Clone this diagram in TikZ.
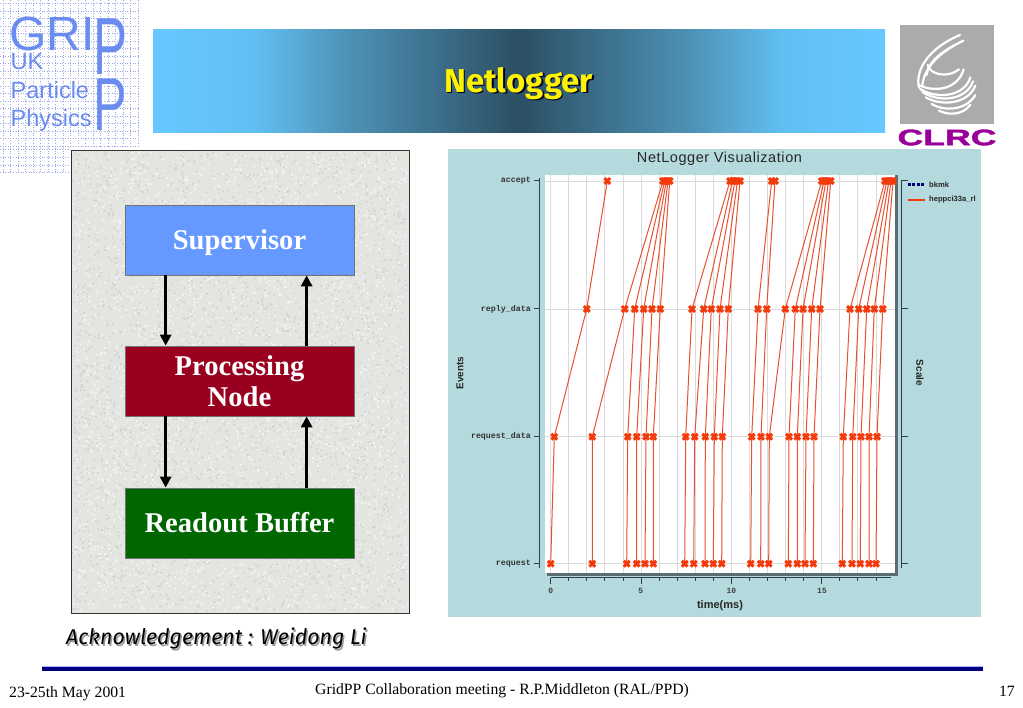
\documentclass[tikz,border=0pt]{standalone}
\usepackage{fontspec}
\setmainfont{Liberation Serif}
\newfontfamily\helv{Liberation Sans}
\newfontfamily\comic{Fira Sans}
\newfontfamily\monob{Liberation Mono}
\newfontfamily\ptitlefont{Liberation Sans}[LetterSpace=4]
\newfontfamily\clrcfont{Liberation Sans}[BoldFeatures={FakeBold=1.5}]
\usetikzlibrary{arrows.meta}
\definecolor{edgeblue}{HTML}{66C8FF}
\definecolor{midblue}{HTML}{4F93B8}
\definecolor{darkblue}{HTML}{2B4F63}
\definecolor{plotbg}{HTML}{B5DADD}
\definecolor{panel}{HTML}{E4E4E1}
\definecolor{gridlogo}{HTML}{9AA8EA}
\definecolor{logoblue}{HTML}{6A8CF0}
\definecolor{sevent}{HTML}{F43A0A}
\definecolor{sline}{HTML}{E8502F}
\definecolor{axisdark}{HTML}{2A3F4A}
\definecolor{clrcpurple}{HTML}{990099}
\pgfdeclarehorizontalshading{titlebar}{100bp}{color(0bp)=(edgeblue); color(25bp)=(edgeblue); color(32bp)=(edgeblue!92!darkblue); color(38bp)=(midblue); color(44bp)=(midblue!50!darkblue); color(50bp)=(darkblue); color(56bp)=(midblue!50!darkblue); color(62bp)=(midblue); color(68bp)=(edgeblue!92!darkblue); color(75bp)=(edgeblue); color(100bp)=(edgeblue)}
\tikzset{
  x=1pt,y=-1pt,
  flowbox/.style={minimum width=229pt,minimum height=70pt,inner sep=0pt,align=center,text=white,draw=black!55,line width=.7pt,font=\fontsize{28.6}{32}\selectfont\bfseries},
  capline/.style={text height=19pt,text depth=0pt},
  flow/.style={line width=3pt,-{Triangle[length=11pt,width=11pt]},black},
  ticklab/.style={font=\monob\bfseries\fontsize{8.3}{9}\selectfont,text=black!80,inner sep=0pt},
  timelab/.style={font=\monob\bfseries\fontsize{8}{9}\selectfont,text=black!75,inner sep=0pt},
  plotlab/.style={font=\helv\bfseries\fontsize{10}{11}\selectfont,text=black!85,inner sep=0pt},
  foot/.style={font=\fontsize{15.7}{17}\selectfont,text=black,inner sep=0pt},
  gridl/.style={draw=black!14,line width=.9pt},
  series/.style={draw=sline,line width=1pt},
  mk/.style={draw=sevent,line width=3pt},
  swirl/.style={draw=white,line width=2.2pt,line cap=round},
  logodots/.style={draw=gridlogo,line width=.8pt,dash pattern=on 1pt off 1.6pt},
  logotext/.style={text=logoblue,inner sep=0pt,anchor=base west,font=\helv\fontsize{23.5}{25}\selectfont}
}
\newcommand{\evmark}[2]{\draw[mk] (#1-2.9,#2-2.9) -- (#1+2.9,#2+2.9) (#1-2.9,#2+2.9) -- (#1+2.9,#2-2.9);}
\begin{document}
\begin{tikzpicture}
\useasboundingbox (0,0) rectangle (1023,708);
\fill[white] (0,0) rectangle (1023,708);
% GridPP logo
\foreach \c in {3,10.5,...,140} \draw[logodots] (\c,0) -- (\c,148);
\foreach \c in {3,10.5,...,70} \draw[logodots] (\c,148) -- (\c,172);
\foreach \r in {3.5,11,...,148} \draw[logodots] (0,\r) -- (140,\r);
\foreach \r in {149.5,157.2,165,172} \draw[logodots] (0,\r) -- (70,\r);
\node[logotext,font=\helv\fontsize{48}{50}\selectfont] (gri) at (9,50.5) {GRI};
\node[logotext,font=\helv\fontsize{81}{82}\selectfont,xscale=.63] (ptop) at (93,75) {P};
\node[logotext,font=\helv\fontsize{75}{76}\selectfont,xscale=.67] (pbot) at (93.5,131) {P};
\node[logotext] (uk) at (10.5,70) {UK};
\node[logotext] (particle) at (10.5,98.5) {Particle};
\node[logotext] (physics) at (10.5,126.5) {Physics};
% Title bar
\shade[shading=titlebar] (153,30) rectangle (885,133);
\node[inner sep=0pt,text=black!85!blue,font=\comic\bfseries\fontsize{33}{36}\selectfont] (titleshadow) at (520.2,85.1) {Netlogger};
\node[inner sep=0pt,text=yellow,font=\comic\bfseries\fontsize{33}{36}\selectfont] (title) at (518.7,83.5) {Netlogger};
% CLRC logo
\fill[black!33] (900,25) rectangle (994,124.5);
\begin{scope}[shift={(895,20)},x=.3333pt,y=-.3333pt]
  \draw[swirl] (195,45) .. controls (100,85) and (60,150) .. (72,203);
  \draw[swirl] (205,62) .. controls (125,100) and (85,150) .. (82,198);
  \draw[swirl] (180,75) .. controls (125,105) and (100,130) .. (95,165);
  \draw[swirl] (98,135) .. controls (105,165) and (160,175) .. (192,148);
  \draw[swirl] (70,195) .. controls (125,220) and (190,205) .. (206,148);
  \draw[swirl] (75,207) .. controls (130,240) and (210,228) .. (226,172);
  \draw[swirl] (82,216) .. controls (135,250) and (215,240) .. (234,184);
  \draw[swirl] (92,232) .. controls (140,260) and (220,252) .. (241,197);
  \draw[swirl] (110,252) .. controls (150,276) and (215,270) .. (241,225);
  \draw[swirl] (132,272) .. controls (160,287) and (205,285) .. (226,254);
\end{scope}
\node[inner sep=0pt,text=clrcpurple,font=\clrcfont\bfseries\fontsize{22}{24}\selectfont,xscale=1.62,yscale=1.02] (clrc) at (947,137.5) {CLRC};
% Left panel
\fill[panel] (71,150) rectangle (409,613);
\pgfmathsetseed{11}
\foreach \i in {1,...,3000}{
  \pgfmathsetmacro\px{72+334*rnd}
  \pgfmathsetmacro\py{151+459*rnd}
  \fill[black!16] (\px,\py) rectangle ++(2,2);
}
\foreach \i in {1,...,3000}{
  \pgfmathsetmacro\px{72+334*rnd}
  \pgfmathsetmacro\py{151+459*rnd}
  \fill[white!94!black] (\px,\py) rectangle ++(2,2);
}
\draw[black!80,line width=.9pt] (71,150) rectangle (409,613);
\node[flowbox,capline,fill={rgb,255:red,102;green,153;blue,255}] (sup) at (239.5,240) {Supervisor};
\node[flowbox,fill={rgb,255:red,153;green,0;blue,32},font=\fontsize{28.6}{31.5}\selectfont\bfseries] (proc) at (239.5,381) {Processing\\Node};
\node[flowbox,capline,fill={rgb,255:red,0;green,102;blue,0}] (rob) at (239.5,523) {Readout Buffer};
\draw[flow] ([xshift=41pt]sup.south west) -- ([xshift=41pt]proc.north west);
\draw[flow] ([xshift=182pt]proc.north west) -- ([xshift=182pt]sup.south west);
\draw[flow] ([xshift=41pt]proc.south west) -- ([xshift=41pt]rob.north west);
\draw[flow] ([xshift=182pt]rob.north west) -- ([xshift=182pt]proc.south west);
% Plot
\fill[plotbg] (448,149) rectangle (981,617);
\fill[black!50!plotbg] (547,573) rectangle (898,575.5);
\fill[black!50!plotbg] (895,175) rectangle (898,575.5);
\fill[white] (544.7,175) rectangle (895,573);
\foreach \k in {0,...,18} \draw[gridl] (550.7+18.07*\k,175) -- (550.7+18.07*\k,573);
\foreach \r in {181,309,436.7,563.7} \draw[gridl] (544.7,\r) -- (895,\r);
% axes
\draw[axisdark,line width=1.3pt] (539.3,178) -- (539.3,568);
\draw[axisdark,line width=1.3pt] (901.7,180) -- (901.7,568);
\foreach \r in {181,309,436.7,563.7}{
  \draw[axisdark,line width=1pt] (534,\r) -- (539.3,\r);
  \draw[axisdark,line width=1pt] (901.7,\r) -- (907.5,\r);
}
\draw[axisdark,line width=1.2pt] (550.7,577.7) -- (891,577.7);
\foreach \k in {0,...,18} \draw[axisdark,line width=.9pt] (550.7+18.07*\k,577.7) -- (550.7+18.07*\k,581);
\foreach \k in {0,5,10,15} \draw[axisdark,line width=1pt] (550.7+18.07*\k,577.7) -- (550.7+18.07*\k,584);
% series
\foreach \a/\b/\c/\d in {
 550.7/554.3/586.7/607.3, 592.3/592.3/624.7/663, 626.7/627.7/634.7/664.7, 636.7/636.7/643.7/666.3,
 645/646/652/668, 653.3/653.3/660.3/669.7,
 684.7/685.7/692/730, 693.7/694.7/703.7/732.5, 705/705.3/711.3/735, 713.3/714.3/720/737.5, 721.7/722.3/728.3/740,
 750.7/751.7/758/771.7, 760.7/761/766.7/775, 768.7/769.3/785.3/821.7,
 788.3/789/795.3/824, 797.3/797.3/803/826, 805/806/811.7/828.5, 813.3/814/820/830.7,
 842.3/843.3/850/885, 852/852.7/858.7/887, 860.3/861/866.7/889, 869/869/874.3/891, 876/877/882.7/893}{
  \draw[series] (\a,563.7) -- (\b,436.7) -- (\c,309) -- (\d,181);
  \evmark{\a}{563.7}\evmark{\b}{436.7}\evmark{\c}{309}\evmark{\d}{181}
}
% plot texts
\node[inner sep=0pt,text=black!85,font=\ptitlefont\fontsize{14.5}{16}\selectfont] (ptitle) at (719.5,158.5) {NetLogger Visualization};
\node[ticklab,anchor=east] (l1) at (531,181) {accept};
\node[ticklab,anchor=east] (l2) at (531,309) {reply\_data};
\node[ticklab,anchor=east] (l3) at (531,436.5) {request\_data};
\node[ticklab,anchor=east] (l4) at (531,564) {request};
\node[plotlab,rotate=90] (evs) at (460,373) {Events};
\node[plotlab,rotate=-90] (scl) at (920,373) {Scale};
\node[plotlab,font=\helv\bfseries\fontsize{11}{12}\selectfont] (tms) at (720,606) {time(ms)};
\node[timelab] (t0) at (550.7,590.5) {0};
\node[timelab] (t5) at (640.7,590.5) {5};
\node[timelab] (t10) at (731.3,590.5) {10};
\node[timelab] (t15) at (822,590.5) {15};
\draw[blue!50!black,line width=2.4pt,dash pattern=on 3pt off 1.3pt] (908,184.5) -- (924.5,184.5);
\draw[sevent,line width=2pt] (908,200) -- (925,200);
\node[plotlab,anchor=west,font=\helv\bfseries\fontsize{7.6}{9}\selectfont] (lg1) at (929,184.5) {bkmk};
\node[plotlab,anchor=west,font=\helv\bfseries\fontsize{7.6}{9}\selectfont] (lg2) at (929,200) {heppci33a\_rl};
% acknowledgement
\node[inner sep=0pt,anchor=west,text=black!40,font=\comic\itshape\fontsize{21.4}{24}\selectfont] (ackshadow) at (67.5,640) {Acknowledgement : Weidong Li};
\node[inner sep=0pt,anchor=west,text=black,font=\comic\itshape\fontsize{21.4}{24}\selectfont] (ack) at (66,638.5) {Acknowledgement : Weidong Li};
% footer
\fill[blue!50!black] (42,666) rectangle (983,671);
\draw[blue!30!white,line width=.6pt] (42,665.8) -- (983,665.8);
\node[foot,anchor=base west] (date) at (9,697) {23-25th May 2001};
\node[foot,anchor=base west] (mid) at (315,694.5) {GridPP Collaboration meeting - R.P.Middleton (RAL/PPD)};
\node[foot,anchor=base east] (pg) at (1015,696) {17};
\end{tikzpicture}
\end{document}
